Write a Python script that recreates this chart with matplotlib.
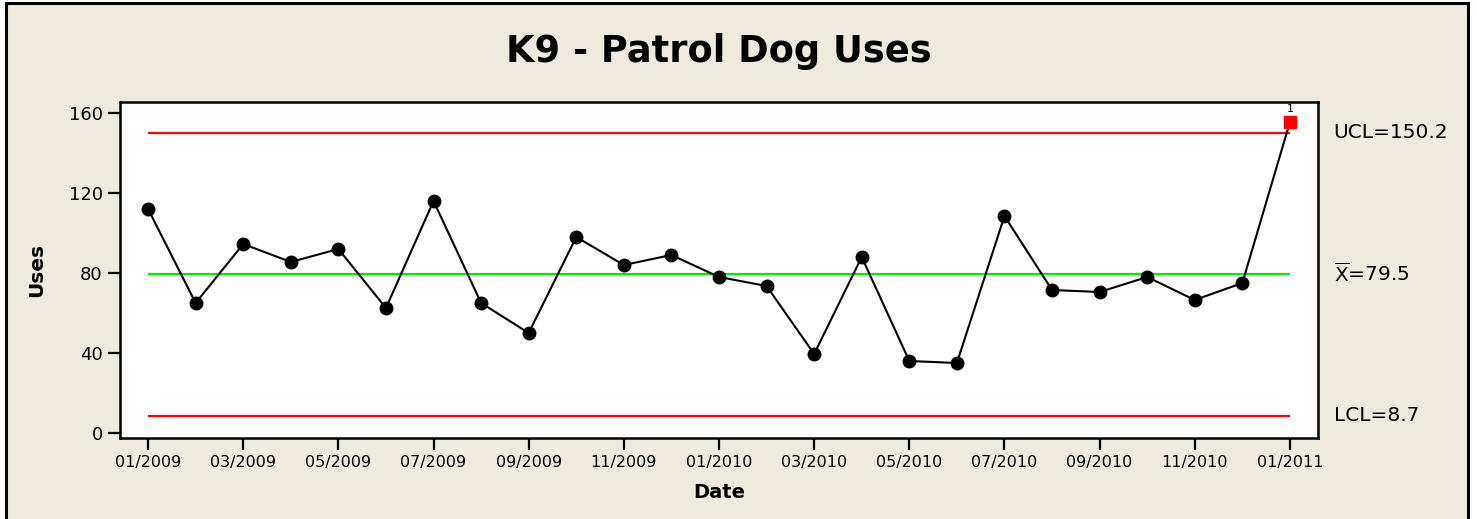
import matplotlib
matplotlib.use("Agg")
import matplotlib.pyplot as plt
from matplotlib.patches import Rectangle

MONTHS = [
    "01/2009", "02/2009", "03/2009", "04/2009", "05/2009", "06/2009",
    "07/2009", "08/2009", "09/2009", "10/2009", "11/2009", "12/2009",
    "01/2010", "02/2010", "03/2010", "04/2010", "05/2010", "06/2010",
    "07/2010", "08/2010", "09/2010", "10/2010", "11/2010", "12/2010",
    "01/2011",
]
USES = [
    112, 65, 94.5, 85.5, 92, 62.5, 116, 65, 50, 98, 84, 89,
    78, 73.5, 39.5, 88, 36, 35, 108.5, 71.5, 70.5, 78, 66.5, 75,
    155.5,
]
UCL = 150.2
MEAN = 79.5
LCL = 8.7
Y_TICKS = [0, 40, 80, 120, 160]

BG = "#eeeae0"
FONT = "DejaVu Sans"

plt.rcParams["font.family"] = FONT
plt.rcParams["mathtext.fontset"] = "dejavusans"

fig = plt.figure(figsize=(14.77, 5.19), dpi=100)
fig.patch.set_facecolor("white")

# outer frame (bottom edge is cut off in the reference)
fig.patches.append(Rectangle(
    (6 / 1477, -0.05), (1468 - 6) / 1477, 1.05 - 3 / 519,
    transform=fig.transFigure, facecolor=BG, edgecolor="black",
    linewidth=2.2, zorder=-10))

ax = fig.add_axes([120 / 1477, 1 - 438 / 519, (1318 - 120) / 1477, (438 - 102) / 519])
ax.set_facecolor("white")
for sp in ax.spines.values():
    sp.set_linewidth(1.8)

xs = list(range(len(USES)))
n = len(USES) - 1

# control lines span the data range only
ax.hlines(UCL, 0, n, color="#ff0000", linewidth=1.6, zorder=2)
ax.hlines(LCL, 0, n, color="#ff0000", linewidth=1.6, zorder=2)
ax.hlines(MEAN, 0, n, color="#00ee00", linewidth=1.6, zorder=2)

ax.plot(xs, USES, color="black", linewidth=1.5, zorder=3)
in_ctrl = [(x, v) for x, v in zip(xs, USES) if LCL <= v <= UCL]
out_ctrl = [(x, v) for x, v in zip(xs, USES) if not (LCL <= v <= UCL)]
ax.plot([p[0] for p in in_ctrl], [p[1] for p in in_ctrl], "o",
        color="black", markersize=9, zorder=4)
ax.plot([p[0] for p in out_ctrl], [p[1] for p in out_ctrl], "s",
        color="#ff0000", markersize=8.5, zorder=4)
for x, v in out_ctrl:
    ax.annotate("1", xy=(x, v), xytext=(0, 6), textcoords="offset points",
                ha="center", va="bottom", fontsize=8, color="black",
                annotation_clip=False)

ax.set_xlim(-0.59, n + 0.59)
ax.set_ylim(-2.5, 165.5)
ax.set_yticks(Y_TICKS)
ax.set_xticks(xs[::2])
ax.set_xticklabels(MONTHS[::2])
ax.tick_params(axis="both", length=8.5, width=1.6, direction="out", pad=4)
ax.tick_params(axis="y", labelsize=13)
ax.tick_params(axis="x", labelsize=11.5)

ax.set_xlabel("Date", fontsize=14, fontweight="bold", labelpad=9)
ax.set_ylabel("Uses", fontsize=14.5, fontweight="bold", labelpad=16)

# limit labels on the right
tr = ax.get_yaxis_transform()
ax.text(1.013, UCL, "UCL=150.2", transform=tr, va="center", ha="left",
        fontsize=14.5)
ax.text(1.013, MEAN, r"$\overline{\mathrm{X}}$=79.5", transform=tr,
        va="center", ha="left", fontsize=14.5)
ax.text(1.013, LCL, "LCL=8.7", transform=tr, va="center", ha="left",
        fontsize=14.5)

fig.text(0.487, 1 - 52 / 519, "K9 - Patrol Dog Uses", ha="center",
         va="center", fontsize=26.5, fontweight="bold")

fig.savefig("out.png", dpi=100, facecolor=fig.get_facecolor())
